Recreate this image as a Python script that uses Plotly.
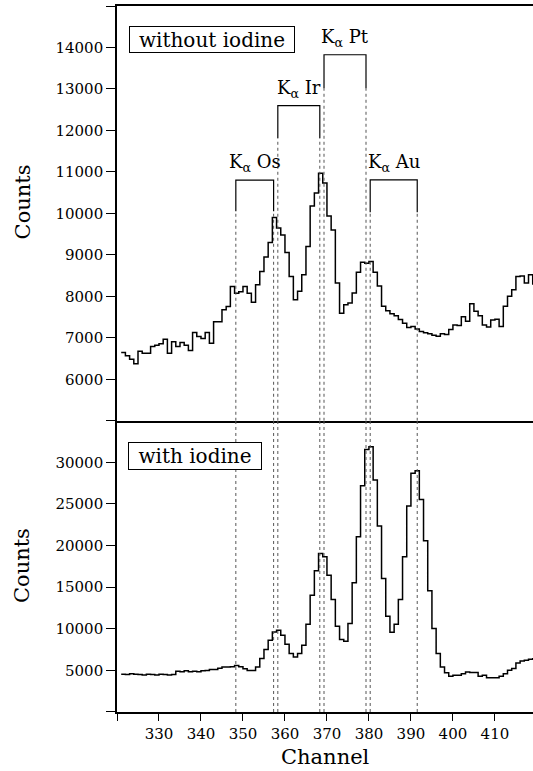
import plotly.graph_objects as go
from plotly.subplots import make_subplots

# ---------------- data ----------------
channels = list(range(321, 420))

counts_without_iodine = [
    6645, 6565, 6485, 6372, 6678, 6630, 6630, 6790, 6822, 6855,
    6967, 6630, 6903, 6790, 6887, 6822, 6694, 7128, 7032, 6983,
    7128, 6871, 7385, 7385, 7675, 7755, 8237, 8077, 8109, 8237,
    8076, 7860, 8280, 8600, 8950, 9300, 9900, 9650, 9480, 9060,
    8480, 7920, 8120, 8520, 9200, 10180, 10490, 10970, 10730, 9940,
    9600, 8320, 7590, 7800, 7840, 8080, 8580, 8820, 8800, 8840,
    8580, 8250, 7760, 7650, 7580, 7530, 7440, 7350, 7250, 7270,
    7210, 7150, 7120, 7100, 7060, 7040, 7100, 7080, 7200, 7310,
    7300, 7510, 7400, 7820, 7640, 7530, 7310, 7260, 7430, 7450,
    7270, 7760, 8000, 8160, 8480, 8490, 8320, 8520, 8300,
]

counts_with_iodine = [
    4550, 4500, 4600, 4550, 4500, 4450, 4550, 4500, 4450, 4550,
    4500, 4450, 4500, 4900, 4850, 4950, 4850, 4900, 4850, 4950,
    5000, 5100, 5100, 5250, 5400, 5400, 5450, 5600, 5450, 5200,
    5000, 5000, 5420, 6420, 7500, 8620, 9630, 9830, 9230, 8140,
    7020, 6620, 7020, 8020, 10550, 14040, 16970, 19050, 18650, 16440,
    13520, 10310, 8700, 8500, 10630, 15520, 21060, 27190, 31560, 31880,
    27870, 22340, 16040, 11510, 9590, 10550, 13520, 18650, 24750, 28680,
    29000, 25550, 20580, 14560, 10030, 7020, 5420, 4730, 4290, 4410,
    4410, 4600, 4815, 4740, 4740, 4290, 4410, 4130, 4130, 4130,
    4290, 4600, 5020, 5220, 5900, 6140, 6220, 6340, 6400,
]

line_elements = ["Os", "Ir", "Pt", "Au"]
bracket_left = [348.3, 358.3, 369.3, 380.3]
bracket_right = [357.3, 368.3, 379.3, 391.5]
bracket_top = [10800, 12600, 13825, 10810]
bracket_leg_end = [10050, 11815, 13020, 10030]

x_ticks = [320, 330, 340, 350, 360, 370, 380, 390, 400, 410]
y_ticks_top = list(range(5000, 15001, 1000))
y_ticks_bottom = list(range(0, 35001, 5000))

FONT = "DejaVu Serif"

# ---------------- figure ----------------
fig = make_subplots(rows=2, cols=1, shared_xaxes=True, vertical_spacing=0,
                    row_heights=[0.5875, 0.4125])

def steps(xs, ys):
    return xs + [xs[-1] + 1], ys + [ys[-1]]

sx, sy = steps(channels, counts_without_iodine)
fig.add_trace(go.Scatter(x=sx, y=sy, mode="lines", line=dict(shape="hv", color="black", width=1.5),
                         showlegend=False, hoverinfo="skip"), row=1, col=1)
sx, sy = steps(channels, counts_with_iodine)
fig.add_trace(go.Scatter(x=sx, y=sy, mode="lines", line=dict(shape="hv", color="black", width=1.5),
                         showlegend=False, hoverinfo="skip"), row=2, col=1)

# brackets + labels + dotted guide lines
for name, xl, xr, yt, yl in zip(line_elements, bracket_left, bracket_right, bracket_top, bracket_leg_end):
    fig.add_trace(go.Scatter(x=[xl, xl, xr, xr], y=[yl, yt, yt, yl], mode="lines",
                             line=dict(color="black", width=1.2), showlegend=False, hoverinfo="skip"),
                  row=1, col=1)
    fig.add_annotation(x=(xl + xr) / 2, y=yt, xref="x", yref="y", xanchor="center", yanchor="bottom",
                       text="K<sub>α</sub> " + name, showarrow=False, yshift=3,
                       font=dict(family=FONT, size=18, color="black"))
    for xv in (xl, xr):
        fig.add_shape(type="line", xref="x", yref="y", x0=xv, x1=xv, y0=y_ticks_top[0], y1=yl,
                      line=dict(color="#555", width=1, dash="dot"))
        fig.add_shape(type="line", xref="x2", yref="y2", x0=xv, x1=xv, y0=y_ticks_bottom[0],
                      y1=y_ticks_bottom[-1], line=dict(color="#555", width=1, dash="dot"))

# panel labels (boxed)
fig.add_annotation(x=0.2278, y=0.9522, xref="paper", yref="paper", xanchor="center", yanchor="middle",
                   text="without iodine", showarrow=False, width=162, height=23, borderpad=1,
                   bordercolor="black", borderwidth=1, bgcolor="white",
                   font=dict(family=FONT, size=20, color="black"))
fig.add_annotation(x=0.1876, y=0.3633, xref="paper", yref="paper", xanchor="center", yanchor="middle",
                   text="with iodine", showarrow=False, width=130, height=24, borderpad=1,
                   bordercolor="black", borderwidth=1, bgcolor="white",
                   font=dict(family=FONT, size=20, color="black"))

# axis titles
fig.add_annotation(x=-0.2270, y=0.7226, xref="paper", yref="paper", xanchor="center", yanchor="middle",
                   text="Counts", textangle=-90, showarrow=False,
                   font=dict(family=FONT, size=21, color="black"))
fig.add_annotation(x=-0.2280, y=0.2069, xref="paper", yref="paper", xanchor="center", yanchor="middle",
                   text="Counts", textangle=-90, showarrow=False,
                   font=dict(family=FONT, size=21, color="black"))
fig.add_annotation(x=0.502, y=-0.0642, xref="paper", yref="paper", xanchor="center", yanchor="middle",
                   text="Channel", showarrow=False, font=dict(family=FONT, size=21, color="black"))

axis_common = dict(showline=True, linecolor="black", linewidth=1.6, showgrid=False, zeroline=False,
                   tickfont=dict(family=FONT, size=15, color="black"), tickcolor="black", tickwidth=1.4)

fig.update_xaxes(range=[320, 419.07], **axis_common)
fig.update_xaxes(row=1, col=1, ticks="", showticklabels=False, mirror=True)
fig.update_xaxes(row=2, col=1, ticks="outside", ticklen=7, tickvals=x_ticks,
                 ticktext=[""] + [str(v) for v in x_ticks[1:]])

fig.update_yaxes(row=1, col=1, range=[5000, 15000], ticks="outside", ticklen=9,
                 tickvals=y_ticks_top,
                 ticktext=[""] + [str(v) for v in y_ticks_top[1:-1]] + [""], **axis_common)
fig.update_yaxes(row=2, col=1, range=[0, 35000], ticks="outside", ticklen=9,
                 tickvals=y_ticks_bottom,
                 ticktext=[""] + [str(v) for v in y_ticks_bottom[1:-1]] + [""], **axis_common)

fig.update_layout(width=533, height=771, margin=dict(l=117, r=0, t=6, b=59),
                  plot_bgcolor="white", paper_bgcolor="white",
                  font=dict(family=FONT, color="black"))

fig.write_html("out.html")
